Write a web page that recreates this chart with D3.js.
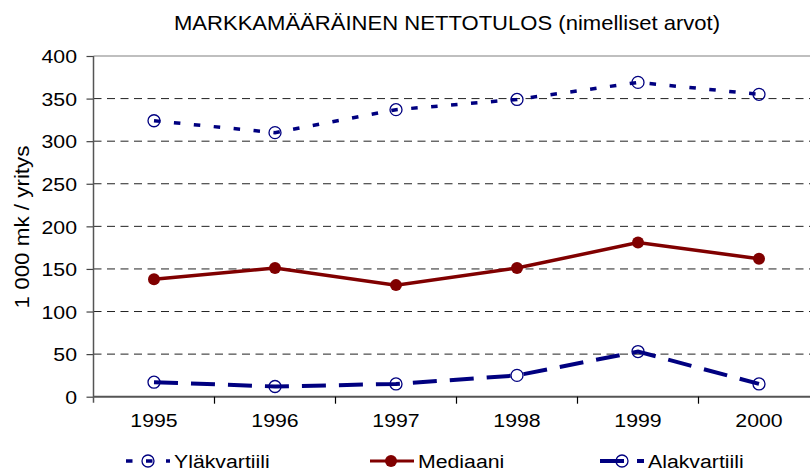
<!DOCTYPE html>
<html>
<head>
<meta charset="utf-8">
<script src="https://cdn.jsdelivr.net/npm/d3@7"></script>
<style>
body { margin:0; background:#fff; }
text { font-family: "Liberation Sans", Arial, sans-serif; fill:#000; }
</style>
</head>
<body>
<div id="chart"></div>
<script>

var years = ["1995","1996","1997","1998","1999","2000"];
var ylakvartiili = [324, 310, 337, 349, 369, 355];
var mediaani = [138, 151, 131, 151, 181, 162];
var alakvartiili = [17, 12, 15, 25, 53, 15];
var yTicks = [0, 50, 100, 150, 200, 250, 300, 350, 400];
var seriesNames = ["Yläkvartiili", "Mediaani", "Alakvartiili"];
var title = "MARKKAMÄÄRÄINEN NETTOTULOS (nimelliset arvot)";
var yTitle = "1 000 mk / yritys";

var width = 810, height = 473;
var sx = 1.12;   // text in the original is a bit wider than Arial
var fs = 19;

var svg = d3.select("#chart").append("svg").attr("width", width).attr("height", height);

var x = d3.scaleBand().domain(years).range([93.5, 819.5]).padding(0);
var y = d3.scaleLinear().domain([0, 400]).range([396.7, 56]);
var cx = function(d){ return x(d) + x.bandwidth()/2; };

function addText(g, tx, ty, str, anchor, rot, size){
	var t = "translate(" + tx + "," + ty + ")" + (rot ? " rotate(" + rot + ")" : "") + " scale(" + sx + ",1)";
	return g.append("text").attr("transform", t).attr("text-anchor", anchor)
		.style("font-size", (size || fs) + "px").text(str);
}

// grid
svg.append("g").selectAll("line")
	.data(yTicks.filter(function(d){ return d > 0 && d < 400; }))
	.enter().append("line")
		.attr("x1", 93.5).attr("x2", 819.5)
		.attr("y1", function(d){ return y(d); }).attr("y2", function(d){ return y(d); })
		.attr("stroke", "#222").attr("stroke-width", 1).attr("stroke-dasharray", "8,5.5");
svg.append("line").attr("x1", 93.5).attr("x2", 819.5).attr("y1", y(400)).attr("y2", y(400))
	.attr("stroke", "#808080").attr("stroke-width", 1.2);

// y axis
var yAxis = svg.append("g").attr("transform", "translate(93.5,0)")
	.call(d3.axisLeft(y).tickValues(yTicks).tickSize(7).tickPadding(0));
yAxis.select(".domain").remove();
yAxis.selectAll(".tick line").attr("stroke", "#444").attr("stroke-width", 1.2);
yAxis.selectAll(".tick text").attr("x", null).attr("dy", "0.35em")
	.attr("transform", "translate(-16.5,0) scale(" + sx + ",1)")
	.style("font-size", fs + "px").style("font-family", "Liberation Sans, Arial, sans-serif").attr("fill", "#000");
svg.append("line").attr("x1", 93.5).attr("x2", 93.5).attr("y1", y(400)).attr("y2", y(0)+6)
	.attr("stroke", "#555").attr("stroke-width", 1.5);

// x axis
svg.append("line").attr("x1", 93.5).attr("x2", 819.5).attr("y1", y(0)).attr("y2", y(0))
	.attr("stroke", "#555").attr("stroke-width", 2);
svg.append("g").selectAll("line").data(years.slice(1))
	.enter().append("line")
		.attr("x1", function(d){ return x(d); }).attr("x2", function(d){ return x(d); })
		.attr("y1", y(0)).attr("y2", y(0)+7)
		.attr("stroke", "#000").attr("stroke-width", 1.2);
var xl = svg.append("g");
years.forEach(function(d){ addText(xl, cx(d), 427, d, "middle"); });

addText(svg, 447, 30, title, "middle", null, 19.7);
addText(svg, 29, 227, yTitle, "middle", -90, 20);

var line = d3.line()
	.x(function(d, i){ return cx(years[i]); })
	.y(function(d){ return y(d); });

var series = [
	{name: seriesNames[0], values: ylakvartiili, color: "#000080", w: 3.5, dash: "6.5,13.5", marker: "open"},
	{name: seriesNames[1], values: mediaani, color: "#800000", w: 3.5, dash: null, marker: "filled"},
	{name: seriesNames[2], values: alakvartiili, color: "#000080", w: 4, dash: "24,13", marker: "open"}
];

function drawMarker(g, mx, my, s){
	if (s.marker == "filled"){
		g.append("circle").attr("cx", mx).attr("cy", my).attr("r", 6).attr("fill", s.color);
	} else {
		g.append("circle").attr("cx", mx).attr("cy", my).attr("r", 6)
			.attr("fill", "none").attr("stroke", s.color).attr("stroke-width", 1.3);
	}
}

series.forEach(function(s){
	var g = svg.append("g");
	g.append("path").datum(s.values)
		.attr("d", line)
		.attr("fill", "none")
		.attr("stroke", s.color)
		.attr("stroke-width", s.w)
		.attr("stroke-dasharray", s.dash);
	s.values.forEach(function(v, i){ drawMarker(g, cx(years[i]), y(v), s); });
});

// legend
var legX = [126, 370, 600];
var legY = 461;
series.forEach(function(s, i){
	var g = svg.append("g");
	g.append("line").attr("x1", legX[i]).attr("x2", legX[i]+44).attr("y1", legY).attr("y2", legY)
		.attr("stroke", s.color).attr("stroke-width", s.marker == "filled" ? 3 : s.w)
		.attr("stroke-dasharray", s.dash);
	drawMarker(g, legX[i] + (s.marker == "filled" ? 21 : 22), legY, s);
	addText(g, legX[i] + 48, 467.5, s.name, "start");
});

</script>
</body>
</html>
